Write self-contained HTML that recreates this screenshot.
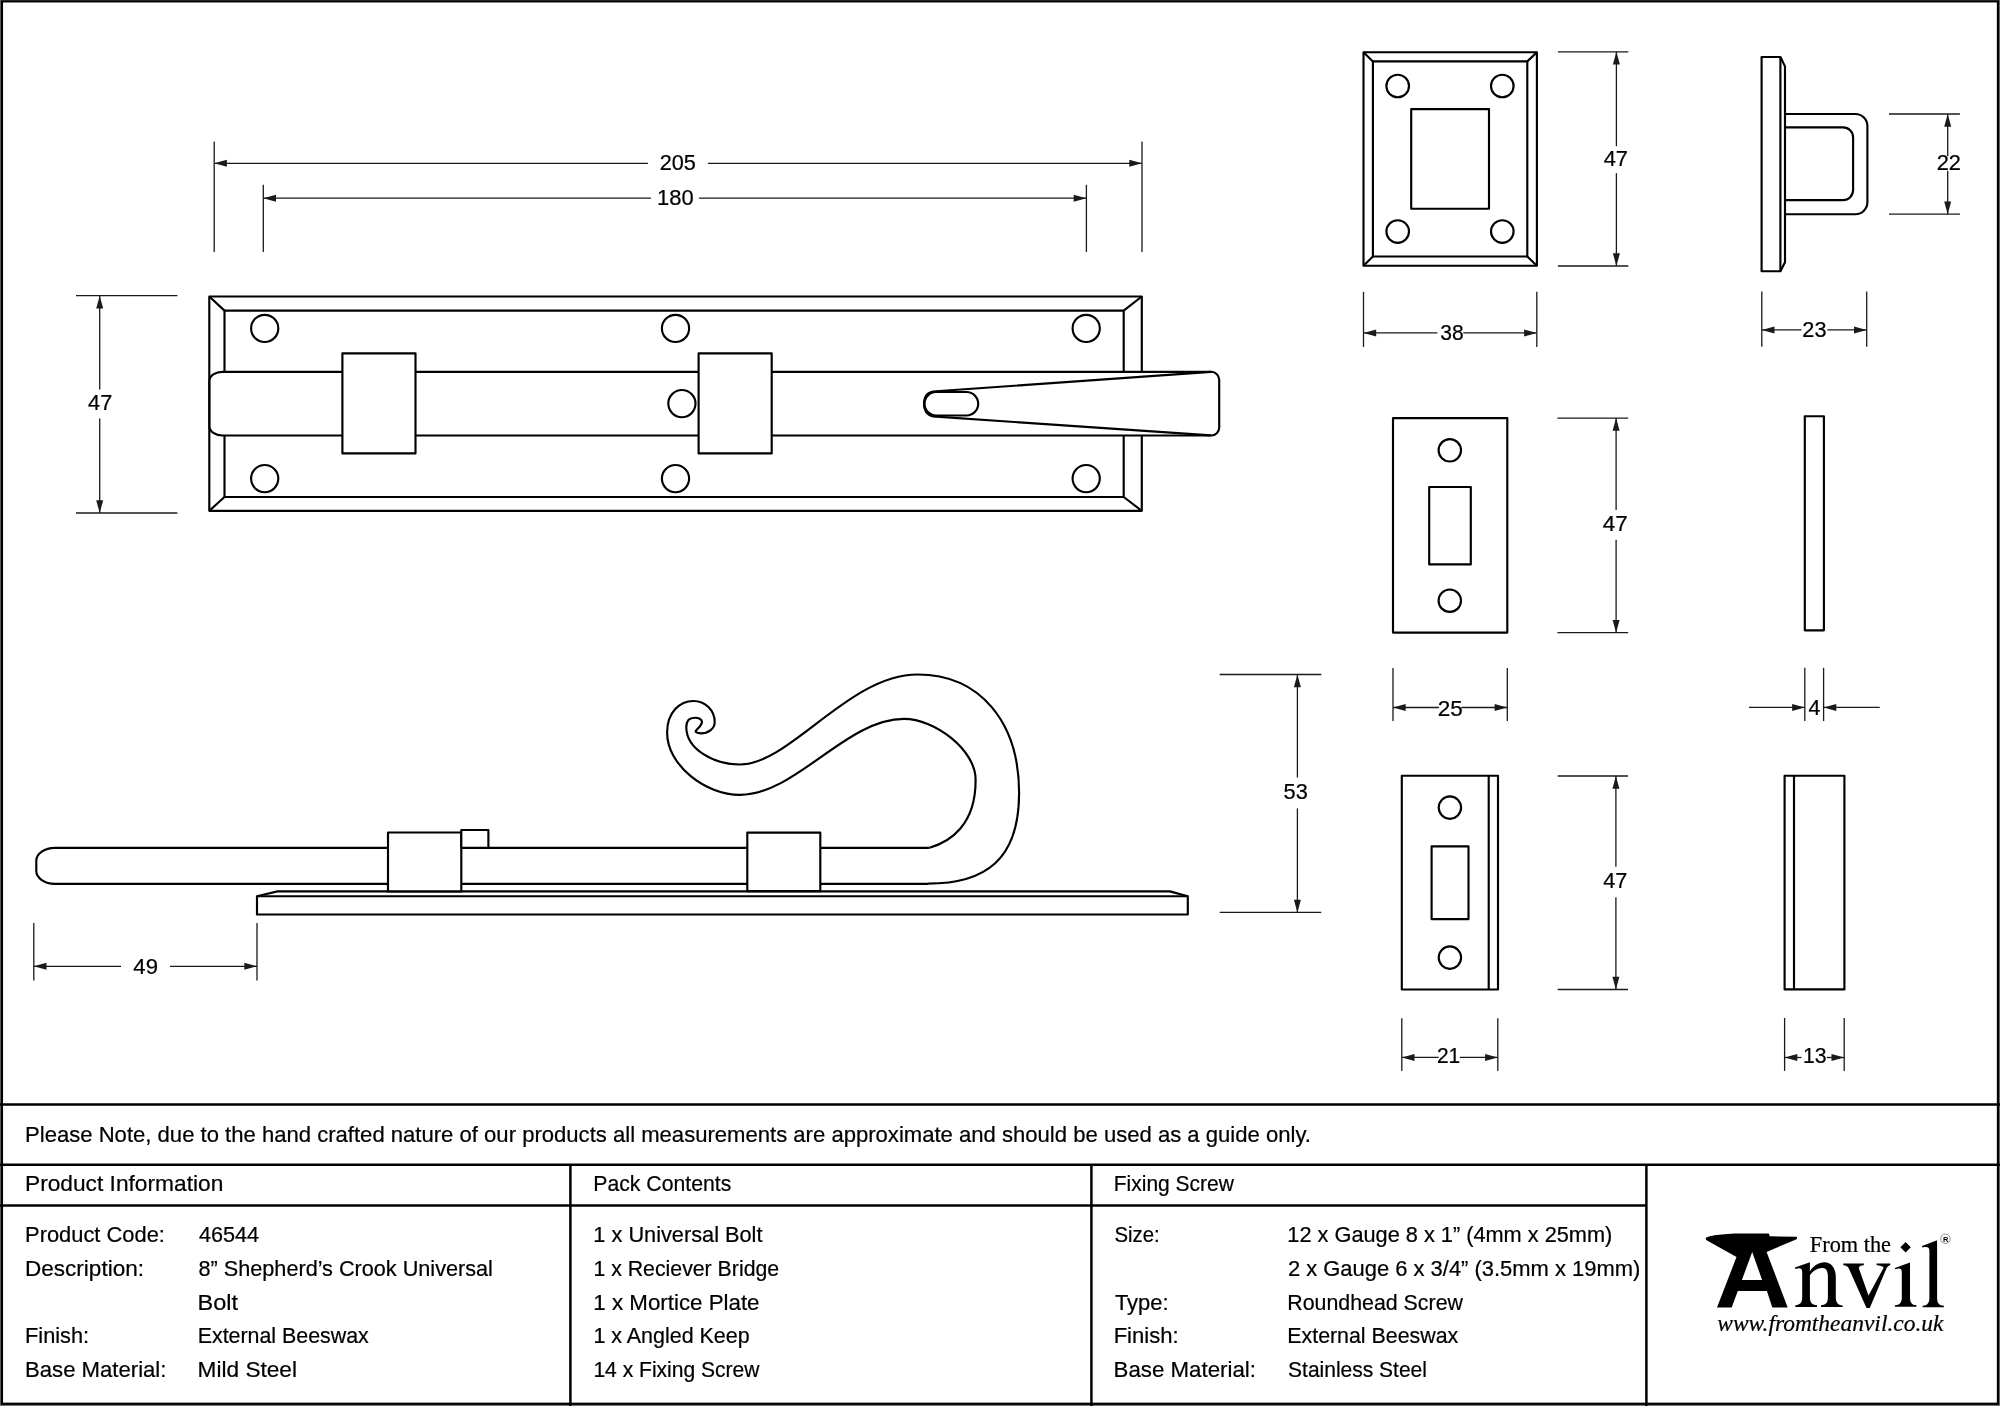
<!DOCTYPE html>
<html><head><meta charset="utf-8"><style>
html,body{margin:0;padding:0;background:#fff;width:2000px;height:1406px;overflow:hidden}
svg{display:block;will-change:transform}
</style></head><body>
<svg width="2000" height="1406" viewBox="0 0 2000 1406">
<rect x="0" y="0" width="2000" height="1406" fill="#fff"/>
<rect x="0" y="0" width="1" height="1406" fill="#777"/>
<rect x="1999" y="0" width="1" height="1406" fill="#777"/>
<rect x="0" y="1405" width="2000" height="1" fill="#777"/>
<g fill="none" stroke="#000" stroke-width="2.5">
<rect x="1.9" y="1.3" width="1996.1" height="1402.5" stroke-width="2.3"/>
<line x1="0" y1="1104.5" x2="2000" y2="1104.5"/>
<line x1="0" y1="1164.8" x2="2000" y2="1164.8"/>
<line x1="0" y1="1205.5" x2="1646.4" y2="1205.5"/>
<line x1="570.4" y1="1164.8" x2="570.4" y2="1406"/>
<line x1="1091.4" y1="1164.8" x2="1091.4" y2="1406"/>
<line x1="1646.4" y1="1164.8" x2="1646.4" y2="1406"/>
</g>
<g fill="#000" stroke="#000" stroke-width="0.22" font-family="'Liberation Sans', sans-serif">
<text x="25.03" y="1142.40" font-size="22" textLength="1285.91" lengthAdjust="spacingAndGlyphs">Please Note, due to the hand crafted nature of our products all measurements are approximate and should be used as a guide only.</text>
<text x="24.98" y="1191.00" font-size="22" textLength="198.31" lengthAdjust="spacingAndGlyphs">Product Information</text>
<text x="593.30" y="1190.80" font-size="22" textLength="137.94" lengthAdjust="spacingAndGlyphs">Pack Contents</text>
<text x="1113.72" y="1190.60" font-size="22" textLength="120.22" lengthAdjust="spacingAndGlyphs">Fixing Screw</text>
<text x="25.05" y="1242.40" font-size="22" textLength="139.87" lengthAdjust="spacingAndGlyphs">Product Code:</text>
<text x="198.97" y="1242.40" font-size="22" textLength="60.20" lengthAdjust="spacingAndGlyphs">46544</text>
<text x="25.00" y="1276.30" font-size="22" textLength="118.98" lengthAdjust="spacingAndGlyphs">Description:</text>
<text x="198.53" y="1276.30" font-size="22" textLength="294.41" lengthAdjust="spacingAndGlyphs">8” Shepherd’s Crook Universal</text>
<text x="197.52" y="1309.80" font-size="22" textLength="40.55" lengthAdjust="spacingAndGlyphs">Bolt</text>
<text x="25.06" y="1343.30" font-size="22" textLength="64.05" lengthAdjust="spacingAndGlyphs">Finish:</text>
<text x="197.69" y="1343.30" font-size="22" textLength="171.12" lengthAdjust="spacingAndGlyphs">External Beeswax</text>
<text x="25.03" y="1377.10" font-size="22" textLength="141.41" lengthAdjust="spacingAndGlyphs">Base Material:</text>
<text x="197.59" y="1377.10" font-size="22" textLength="99.42" lengthAdjust="spacingAndGlyphs">Mild Steel</text>
<text x="593.37" y="1242.40" font-size="22" textLength="169.09" lengthAdjust="spacingAndGlyphs">1 x Universal Bolt</text>
<text x="593.40" y="1276.30" font-size="22" textLength="185.77" lengthAdjust="spacingAndGlyphs">1 x Reciever Bridge</text>
<text x="593.33" y="1309.80" font-size="22" textLength="166.19" lengthAdjust="spacingAndGlyphs">1 x Mortice Plate</text>
<text x="593.40" y="1343.30" font-size="22" textLength="156.27" lengthAdjust="spacingAndGlyphs">1 x Angled Keep</text>
<text x="593.42" y="1377.10" font-size="22" textLength="166.12" lengthAdjust="spacingAndGlyphs">14 x Fixing Screw</text>
<text x="1114.49" y="1242.40" font-size="22" textLength="45.20" lengthAdjust="spacingAndGlyphs">Size:</text>
<text x="1287.37" y="1242.40" font-size="22" textLength="324.89" lengthAdjust="spacingAndGlyphs">12 x Gauge 8 x 1” (4mm x 25mm)</text>
<text x="1287.90" y="1276.30" font-size="22" textLength="352.37" lengthAdjust="spacingAndGlyphs">2 x Gauge 6 x 3/4” (3.5mm x 19mm)</text>
<text x="1114.96" y="1309.80" font-size="22" textLength="53.56" lengthAdjust="spacingAndGlyphs">Type:</text>
<text x="1287.29" y="1309.80" font-size="22" textLength="175.65" lengthAdjust="spacingAndGlyphs">Roundhead Screw</text>
<text x="1113.63" y="1343.30" font-size="22" textLength="65.00" lengthAdjust="spacingAndGlyphs">Finish:</text>
<text x="1287.29" y="1343.30" font-size="22" textLength="170.92" lengthAdjust="spacingAndGlyphs">External Beeswax</text>
<text x="1113.62" y="1377.10" font-size="22" textLength="142.34" lengthAdjust="spacingAndGlyphs">Base Material:</text>
<text x="1288.06" y="1377.10" font-size="22" textLength="138.85" lengthAdjust="spacingAndGlyphs">Stainless Steel</text>
<text x="659.72" y="169.70" font-size="22" textLength="36.18" lengthAdjust="spacingAndGlyphs">205</text>
<text x="657.05" y="205.40" font-size="22" textLength="36.64" lengthAdjust="spacingAndGlyphs">180</text>
<text x="88.07" y="409.90" font-size="22" textLength="24.14" lengthAdjust="spacingAndGlyphs">47</text>
<text x="133.36" y="973.80" font-size="22" textLength="24.67" lengthAdjust="spacingAndGlyphs">49</text>
<text x="1283.53" y="799.40" font-size="22" textLength="24.27" lengthAdjust="spacingAndGlyphs">53</text>
<text x="1603.66" y="165.50" font-size="22" textLength="24.24" lengthAdjust="spacingAndGlyphs">47</text>
<text x="1440.26" y="339.90" font-size="22" textLength="23.40" lengthAdjust="spacingAndGlyphs">38</text>
<text x="1936.71" y="170.10" font-size="22" textLength="24.19" lengthAdjust="spacingAndGlyphs">22</text>
<text x="1802.31" y="336.90" font-size="22" textLength="24.18" lengthAdjust="spacingAndGlyphs">23</text>
<text x="1602.85" y="530.60" font-size="22" textLength="24.99" lengthAdjust="spacingAndGlyphs">47</text>
<text x="1437.77" y="715.50" font-size="22" textLength="25.05" lengthAdjust="spacingAndGlyphs">25</text>
<text x="1808.47" y="715.40" font-size="22" textLength="11.89" lengthAdjust="spacingAndGlyphs">4</text>
<text x="1603.27" y="888.40" font-size="22" textLength="24.14" lengthAdjust="spacingAndGlyphs">47</text>
<text x="1436.95" y="1062.70" font-size="22" textLength="23.32" lengthAdjust="spacingAndGlyphs">21</text>
<text x="1802.91" y="1062.60" font-size="22" textLength="23.56" lengthAdjust="spacingAndGlyphs">13</text>
<text x="1809.84" y="1251.80" font-size="23" textLength="81.21" lengthAdjust="spacingAndGlyphs" font-family="Liberation Serif, serif">From the</text>
<text x="1717.33" y="1331.30" font-size="24" textLength="226.09" lengthAdjust="spacingAndGlyphs" font-family="Liberation Serif, serif" font-style="italic">www.fromtheanvil.co.uk</text>
</g>
<g stroke="#1a1a1a" stroke-width="1.3" fill="#1a1a1a">
<line x1="214.20" y1="141.50" x2="214.20" y2="252.00"/>
<line x1="1142.00" y1="141.50" x2="1142.00" y2="252.00"/>
<line x1="214.20" y1="163.30" x2="647.90" y2="163.30"/>
<line x1="707.90" y1="163.30" x2="1142.00" y2="163.30"/>
<path stroke="none" d="M214.20,163.30 L226.90,159.80 L226.90,166.80 Z"/>
<path stroke="none" d="M1142.00,163.30 L1129.30,166.80 L1129.30,159.80 Z"/>
<line x1="263.30" y1="184.80" x2="263.30" y2="252.00"/>
<line x1="1086.40" y1="184.80" x2="1086.40" y2="252.00"/>
<line x1="263.30" y1="198.20" x2="650.90" y2="198.20"/>
<line x1="698.90" y1="198.20" x2="1086.40" y2="198.20"/>
<path stroke="none" d="M263.30,198.20 L276.00,194.70 L276.00,201.70 Z"/>
<path stroke="none" d="M1086.40,198.20 L1073.70,201.70 L1073.70,194.70 Z"/>
<line x1="76.00" y1="295.70" x2="177.40" y2="295.70"/>
<line x1="76.00" y1="513.00" x2="177.40" y2="513.00"/>
<line x1="99.70" y1="295.70" x2="99.70" y2="389.40"/>
<line x1="99.70" y1="418.40" x2="99.70" y2="513.00"/>
<path stroke="none" d="M99.70,295.70 L103.20,308.40 L96.20,308.40 Z"/>
<path stroke="none" d="M99.70,513.00 L96.20,500.30 L103.20,500.30 Z"/>
<line x1="33.80" y1="923.00" x2="33.80" y2="980.50"/>
<line x1="257.00" y1="923.00" x2="257.00" y2="980.50"/>
<line x1="33.80" y1="966.30" x2="121.00" y2="966.30"/>
<line x1="170.00" y1="966.30" x2="257.00" y2="966.30"/>
<path stroke="none" d="M33.80,966.30 L46.50,962.80 L46.50,969.80 Z"/>
<path stroke="none" d="M257.00,966.30 L244.30,969.80 L244.30,962.80 Z"/>
<line x1="1219.70" y1="674.50" x2="1321.30" y2="674.50"/>
<line x1="1219.70" y1="912.40" x2="1321.30" y2="912.40"/>
<line x1="1297.40" y1="674.50" x2="1297.40" y2="777.50"/>
<line x1="1297.40" y1="808.40" x2="1297.40" y2="912.40"/>
<path stroke="none" d="M1297.40,674.50 L1300.90,687.20 L1293.90,687.20 Z"/>
<path stroke="none" d="M1297.40,912.40 L1293.90,899.70 L1300.90,899.70 Z"/>
<line x1="1557.90" y1="51.80" x2="1628.30" y2="51.80"/>
<line x1="1557.90" y1="266.00" x2="1628.30" y2="266.00"/>
<line x1="1616.40" y1="51.80" x2="1616.40" y2="146.20"/>
<line x1="1616.40" y1="173.20" x2="1616.40" y2="266.00"/>
<path stroke="none" d="M1616.40,51.80 L1619.90,64.50 L1612.90,64.50 Z"/>
<path stroke="none" d="M1616.40,266.00 L1612.90,253.30 L1619.90,253.30 Z"/>
<line x1="1363.50" y1="291.80" x2="1363.50" y2="347.00"/>
<line x1="1536.80" y1="291.80" x2="1536.80" y2="347.00"/>
<line x1="1363.50" y1="332.90" x2="1437.40" y2="332.90"/>
<line x1="1463.30" y1="332.90" x2="1536.80" y2="332.90"/>
<path stroke="none" d="M1363.50,332.90 L1376.20,329.40 L1376.20,336.40 Z"/>
<path stroke="none" d="M1536.80,332.90 L1524.10,336.40 L1524.10,329.40 Z"/>
<line x1="1889.00" y1="114.00" x2="1959.90" y2="114.00"/>
<line x1="1889.00" y1="214.20" x2="1959.90" y2="214.20"/>
<line x1="1947.70" y1="114.00" x2="1947.70" y2="156.20"/>
<line x1="1947.70" y1="170.80" x2="1947.70" y2="214.20"/>
<path stroke="none" d="M1947.70,114.00 L1951.20,126.70 L1944.20,126.70 Z"/>
<path stroke="none" d="M1947.70,214.20 L1944.20,201.50 L1951.20,201.50 Z"/>
<line x1="1761.80" y1="291.60" x2="1761.80" y2="346.80"/>
<line x1="1866.70" y1="291.60" x2="1866.70" y2="346.80"/>
<line x1="1761.80" y1="329.90" x2="1801.50" y2="329.90"/>
<line x1="1827.30" y1="329.90" x2="1866.70" y2="329.90"/>
<path stroke="none" d="M1761.80,329.90 L1774.50,326.40 L1774.50,333.40 Z"/>
<path stroke="none" d="M1866.70,329.90 L1854.00,333.40 L1854.00,326.40 Z"/>
<line x1="1557.40" y1="418.10" x2="1628.20" y2="418.10"/>
<line x1="1557.40" y1="632.60" x2="1628.20" y2="632.60"/>
<line x1="1616.10" y1="418.10" x2="1616.10" y2="510.00"/>
<line x1="1616.10" y1="539.70" x2="1616.10" y2="632.60"/>
<path stroke="none" d="M1616.10,418.10 L1619.60,430.80 L1612.60,430.80 Z"/>
<path stroke="none" d="M1616.10,632.60 L1612.60,619.90 L1619.60,619.90 Z"/>
<line x1="1393.00" y1="667.90" x2="1393.00" y2="721.10"/>
<line x1="1507.30" y1="667.90" x2="1507.30" y2="721.10"/>
<line x1="1393.00" y1="707.50" x2="1438.90" y2="707.50"/>
<line x1="1461.40" y1="707.50" x2="1507.30" y2="707.50"/>
<path stroke="none" d="M1393.00,707.50 L1405.70,704.00 L1405.70,711.00 Z"/>
<path stroke="none" d="M1507.30,707.50 L1494.60,711.00 L1494.60,704.00 Z"/>
<line x1="1804.80" y1="667.80" x2="1804.80" y2="721.00"/>
<line x1="1823.60" y1="667.80" x2="1823.60" y2="721.00"/>
<line x1="1749.00" y1="707.40" x2="1804.80" y2="707.40"/>
<line x1="1823.60" y1="707.40" x2="1879.70" y2="707.40"/>
<path stroke="none" d="M1804.80,707.40 L1792.10,710.90 L1792.10,703.90 Z"/>
<path stroke="none" d="M1823.60,707.40 L1836.30,703.90 L1836.30,710.90 Z"/>
<line x1="1557.70" y1="776.00" x2="1628.00" y2="776.00"/>
<line x1="1557.70" y1="989.50" x2="1628.00" y2="989.50"/>
<line x1="1615.90" y1="776.00" x2="1615.90" y2="866.80"/>
<line x1="1615.90" y1="897.30" x2="1615.90" y2="989.50"/>
<path stroke="none" d="M1615.90,776.00 L1619.40,788.70 L1612.40,788.70 Z"/>
<path stroke="none" d="M1615.90,989.50 L1612.40,976.80 L1619.40,976.80 Z"/>
<line x1="1401.80" y1="1018.20" x2="1401.80" y2="1071.00"/>
<line x1="1497.80" y1="1018.20" x2="1497.80" y2="1071.00"/>
<line x1="1401.80" y1="1057.40" x2="1438.70" y2="1057.40"/>
<line x1="1459.80" y1="1057.40" x2="1497.80" y2="1057.40"/>
<path stroke="none" d="M1401.80,1057.40 L1414.50,1053.90 L1414.50,1060.90 Z"/>
<path stroke="none" d="M1497.80,1057.40 L1485.10,1060.90 L1485.10,1053.90 Z"/>
<line x1="1784.60" y1="1018.00" x2="1784.60" y2="1070.90"/>
<line x1="1844.20" y1="1018.00" x2="1844.20" y2="1070.90"/>
<line x1="1784.60" y1="1057.50" x2="1801.50" y2="1057.50"/>
<line x1="1826.80" y1="1057.50" x2="1844.20" y2="1057.50"/>
<path stroke="none" d="M1784.60,1057.50 L1797.30,1054.00 L1797.30,1061.00 Z"/>
<path stroke="none" d="M1844.20,1057.50 L1831.50,1061.00 L1831.50,1054.00 Z"/>
</g>
<g fill="#fff" stroke="#000" stroke-width="2.15" stroke-linejoin="round">
<!-- top view plate -->
<rect x="209.3" y="296.5" width="932.5" height="214.3"/>
<rect x="224.5" y="310.6" width="899.2" height="186.4"/>
<path fill="none" d="M209.3,296.5 L224.5,310.6 M1141.8,296.5 L1123.7,310.6 M209.3,510.8 L224.5,497 M1141.8,510.8 L1123.7,497"/>
<circle cx="264.7" cy="328.4" r="13.6"/><circle cx="264.7" cy="478.6" r="13.6"/>
<circle cx="675.5" cy="328.4" r="13.6"/><circle cx="675.5" cy="478.6" r="13.6"/>
<circle cx="1086.2" cy="328.4" r="13.6"/><circle cx="1086.2" cy="478.6" r="13.6"/>
<!-- bolt bar -->
<path d="M222.5,371.8 H1211 A8,8 0 0 1 1219.2,380 V427.5 A8,8 0 0 1 1211,435.5 H222.5 A13,9 0 0 1 209.5,426.5 V380.8 A13,9 0 0 1 222.5,371.8 Z"/>
<circle cx="681.9" cy="403.6" r="13.6"/>
<rect x="342.4" y="353.4" width="73.1" height="100"/>
<rect x="698.6" y="353.4" width="73.1" height="100"/>
<!-- handle taper -->
<path fill="none" d="M936,391.3 L1211,371.9 M936,416.6 L1211,435.4"/>
<path fill="none" d="M936,391.3 C926,391.5 924,398 924,404 C924,411 928,416.6 936,416.6"/>
<rect x="924.5" y="392" width="53.7" height="23.5" rx="11.7" ry="11.7" fill="none"/>
<!-- side view -->
<path d="M257,896.2 L277.5,891.4 L1169.9,891.4 L1187.8,896.2 L1187.8,914.5 L257,914.5 Z"/>
<path fill="none" d="M257,896.2 L1187.8,896.2"/>
<path stroke="none" d="M929.5,847.8 H54.9 A18.6,12.8 0 0 0 36.3,860.6 V871.1 A18.6,12.8 0 0 0 54.9,883.9 H928 Z" />
<path fill="none" d="M929.5,847.8 H54.9 A18.6,12.8 0 0 0 36.3,860.6 V871.1 A18.6,12.8 0 0 0 54.9,883.9 H928" />
<path fill="none" d="M929.5,847.7 C950,842 976,825 975.6,779.5 C975.6,750 935,718.9 903.9,718.9 C845.9,718.9 796,794.8 740,794.8 C705,794.8 667.1,765 667.1,732.7 C667.1,712 680,701 693.4,701 C705,701 714.7,710 714.7,722 C714.7,729 708,733.4 700.5,733.4 C698,733.4 696.2,732.6 695.2,731.6"/>
<path fill="none" d="M927.8,883.6 C985,883.6 1019.1,860 1019.1,793.1 C1019.1,722 980,674.5 917.5,674.5 C848.8,674.5 790,764.5 740,764.5 C715,764.5 686.3,750 686.3,727 C686.3,720.5 690,717.7 694.8,717.7 C699,717.7 702.5,719.5 701.9,722.5 C701.3,726 697,729 695.2,731.6"/>
<rect x="388" y="832.5" width="73.3" height="58.9"/>
<rect x="461.3" y="830" width="27.1" height="17.7"/>
<rect x="747.3" y="832.6" width="73" height="58.6"/>
<!-- bridge front -->
<rect x="1363.5" y="52.2" width="173.4" height="213.5"/>
<rect x="1372.9" y="61.4" width="154.4" height="195.1"/>
<path fill="none" d="M1363.5,52.2 L1372.9,61.4 M1536.9,52.2 L1527.3,61.4 M1363.5,265.7 L1372.9,256.5 M1536.9,265.7 L1527.3,256.5"/>
<circle cx="1397.7" cy="86" r="11.3"/><circle cx="1502.3" cy="86" r="11.3"/>
<circle cx="1397.7" cy="231.5" r="11.3"/><circle cx="1502.3" cy="231.5" r="11.3"/>
<rect x="1411.2" y="109.1" width="77.8" height="99.7"/>
<!-- bridge side -->
<path d="M1761.6,57 H1780.4 L1785,66.4 V262.3 L1780.4,271.2 H1761.6 Z"/>
<path fill="none" d="M1780.4,57 V271.2"/>
<path fill="none" d="M1785,114 H1855.4 A12,12 0 0 1 1867.4,126 V202.2 A12,12 0 0 1 1855.4,214.2 H1785"/>
<path fill="none" d="M1785,127.4 H1843.1 A10,10 0 0 1 1853.1,137.4 V190.1 A10,10 0 0 1 1843.1,200.1 H1785"/>
<!-- mortice plate -->
<rect x="1393" y="418.1" width="114.3" height="214.5"/>
<circle cx="1449.8" cy="450.3" r="11.2"/><circle cx="1449.8" cy="600.7" r="11.2"/>
<rect x="1429.2" y="487" width="41.6" height="77.4"/>
<rect x="1804.8" y="416.2" width="19.1" height="214.1"/>
<!-- keep -->
<rect x="1401.8" y="775.7" width="96.2" height="213.8"/>
<path fill="none" d="M1488.7,775.7 V989.5"/>
<circle cx="1449.9" cy="807.6" r="11.2"/><circle cx="1449.9" cy="957.6" r="11.2"/>
<rect x="1431.6" y="846.4" width="36.9" height="72.7"/>
<rect x="1784.6" y="775.7" width="59.8" height="213.7"/>
<path fill="none" d="M1794,775.7 V989.4"/>
</g>
<g fill="#000">
<path d="M1705.8,1238.4 C1706,1236.5 1718,1234 1738.4,1233.6 L1768.8,1233.6 L1769.8,1236.2 L1796.7,1236.8 C1797.5,1237.5 1797,1238.8 1796,1239.4 L1766.6,1251.9 L1787.7,1307.6 L1772.3,1307.6 L1766.9,1291 L1737.8,1291 L1731.7,1307.6 L1717,1307.6 L1736.5,1257 L1707,1240.5 C1706,1240 1705.6,1239.2 1705.8,1238.4 Z M1752.2,1251.9 L1741.9,1280 L1762.1,1280 Z" fill-rule="evenodd"/>
<path d="M1905.6,1242.1 L1910.8,1247.3 L1905.6,1252.5 L1900.4,1247.3 Z"/>
<path d="M1795.3,1306.9 L1817,1306.9 L1817,1305.3 C1811.5,1305 1809.9,1302 1809.9,1297 L1809.9,1275.3 C1813,1270.5 1818,1268 1822.4,1268 C1826.5,1268 1827.9,1271.5 1827.9,1277 L1827.9,1297 C1827.9,1302 1826.5,1305 1821,1305.3 L1821,1306.9 L1842.7,1306.9 L1842.7,1305.5 C1837.5,1305 1835.8,1302 1835.8,1297 L1835.8,1277 C1835.8,1268 1831,1262.3 1824.5,1262.3 C1818.5,1262.3 1813.5,1266 1809.9,1271.2 L1809.9,1262.3 L1794.9,1267.6 L1795.5,1268.9 C1799.5,1267.6 1802.2,1268 1802.2,1272 L1802.2,1297 C1802.2,1302 1800.5,1305 1795.3,1305.3 Z"/>
<path d="M1843.3,1263.5 H1863.8 V1265.2 C1860.5,1265.5 1858.5,1266.5 1858.9,1268.4 L1868.5,1295.6 L1883.5,1268 C1883.5,1266.3 1879.5,1265.5 1876.6,1265.3 V1263.5 H1890.3 V1265.3 C1888.8,1265.6 1887.3,1266.5 1886.4,1268.5 L1869.8,1308.1 H1866.5 L1848.8,1268.4 C1847.8,1266.3 1846,1265.5 1843.3,1265.2 Z"/>
<path d="M1894.9,1267.9 L1910,1262.4 V1297 C1910,1302.5 1911.5,1305 1916.5,1305.3 V1306.7 H1894.9 V1305.3 C1900,1305 1901.8,1302.5 1901.8,1297 V1272 C1901.8,1268.5 1899.5,1267.8 1895.3,1269.2 Z"/>
<path d="M1922,1246 L1937.1,1240.2 V1297.5 C1937.1,1303 1938.8,1305.5 1943.9,1305.8 V1307.3 H1922.6 V1305.8 C1927.5,1305.5 1929.4,1303 1929.4,1297.5 V1250.5 C1929.4,1247 1927,1246.3 1922.4,1247.4 Z"/>
<circle cx="1945.4" cy="1238.8" r="4.8" fill="none" stroke="#777" stroke-width="0.8"/>
<text x="1943.1" y="1241.6" font-size="7.5" font-family="Liberation Sans, sans-serif" font-weight="bold">R</text>
</g>
</svg>
</body></html>
